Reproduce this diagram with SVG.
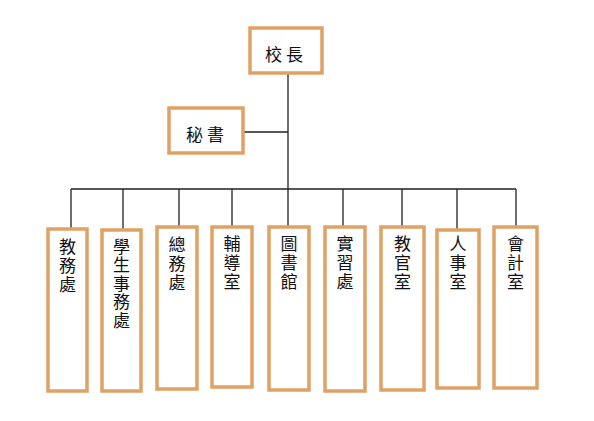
<svg xmlns="http://www.w3.org/2000/svg" width="594" height="421" viewBox="0 0 594 421">
<style>
.box{fill:#fff;stroke:#E0A264;stroke-width:3.5}
.t{font-family:"Noto Sans CJK TC","Noto Sans CJK SC",sans-serif;font-size:17px;fill:#111;text-anchor:middle}
.v{font-family:"Noto Sans CJK TC","Noto Sans CJK SC",sans-serif;font-size:17px;fill:#111;writing-mode:vertical-rl;text-anchor:start;letter-spacing:2px}
.ln{stroke:#222;stroke-width:1.3;fill:none}
</style>
<rect width="594" height="421" fill="#fff"/>
<g id="connectors">
<path class="ln" d="M288 73V189M243 132H288M71 189H516"/>
<path class="ln" d="M71 189V229M123 189V230M179 189V227M232 189V227M288 189V227M343 189V227M402 189V227M457 189V230M516 189V227"/>
</g>
<g id="n-principal"><rect class="box" x="250" y="28" width="72" height="45"/><text class="t" x="286" y="61" letter-spacing="4">校長</text></g>
<g id="n-secretary"><rect class="box" x="169" y="108" width="74" height="45"/><text class="t" x="207" y="141" letter-spacing="4">秘書</text></g>
<g id="n1"><rect class="box" x="48" y="229" width="39" height="162"/><text class="v" x="67.5" y="238">教務處</text></g>
<g id="n2"><rect class="box" x="102" y="230" width="39" height="161"/><text class="v" x="121.5" y="238" style="letter-spacing:1.5px">學生事務處</text></g>
<g id="n3"><rect class="box" x="157" y="227" width="40" height="162"/><text class="v" x="177" y="236">總務處</text></g>
<g id="n4"><rect class="box" x="212" y="227" width="40" height="160"/><text class="v" x="232" y="235">輔導室</text></g>
<g id="n5"><rect class="box" x="269" y="227" width="40" height="163"/><text class="v" x="289" y="235">圖書館</text></g>
<g id="n6"><rect class="box" x="325" y="227" width="40" height="164"/><text class="v" x="345" y="235">實習處</text></g>
<g id="n7"><rect class="box" x="381" y="227" width="43" height="163"/><text class="v" x="402.5" y="235">教官室</text></g>
<g id="n8"><rect class="box" x="437" y="230" width="42" height="158"/><text class="v" x="458" y="235">人事室</text></g>
<g id="n9"><rect class="box" x="494" y="227" width="43" height="161"/><text class="v" x="515.5" y="235">會計室</text></g>
</svg>
